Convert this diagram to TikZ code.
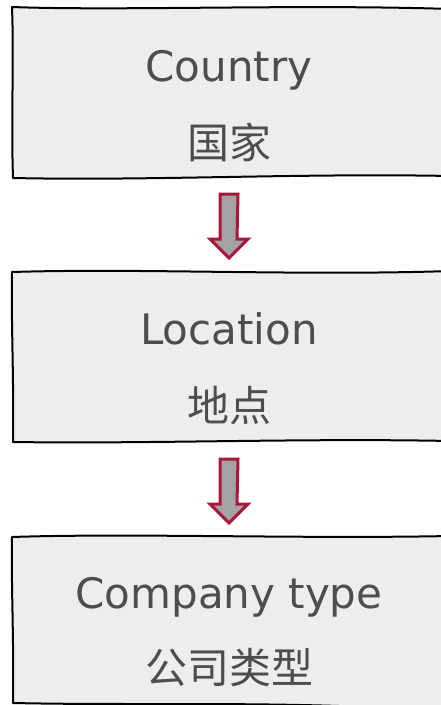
\documentclass[tikz,border=0pt]{standalone}
\usepackage{fontspec}
\setmainfont{DejaVu Sans}
\newfontfamily\cjk{Noto Sans CJK SC}
\usetikzlibrary{calc}
\definecolor{boxfill}{HTML}{EDEDED}
\definecolor{txtgray}{HTML}{4D4D4D}
\definecolor{arrred}{HTML}{A8173A}
\definecolor{arrfill}{HTML}{A3A3A3}
\tikzset{
  boxline/.style={draw=black, fill=boxfill, line width=2pt, line join=round},
  entxt/.style={text=txtgray, font=\fontsize{42}{50}\selectfont, anchor=base, inner sep=0pt},
  cntxt/.style={text=txtgray, font=\cjk\fontsize{42}{50}\selectfont, anchor=center, inner sep=0pt},
  fatarrow/.style={draw=arrred, fill=arrfill, line width=3pt, line join=miter}
}
\begin{document}
\begin{tikzpicture}[x=1pt,y=-1pt]
\useasboundingbox (0,0) rectangle (441,705);
\clip (0,0) rectangle (441,705);
% box 1
\draw[boxline] (12,7) .. controls (120,11) and (300,4) .. (450,9) -- (450,176)
  .. controls (300,173) and (150,181) .. (13,178) .. controls (11,120) and (14,60) .. cycle;
\node[entxt] (country) at (229,81) {Country};
\node[cntxt] (guojia) at (229,142) {国家};
% box 2
\draw[boxline] (12,272) .. controls (140,268) and (300,276) .. (450,271) -- (450,441)
  .. controls (300,438) and (150,444) .. (13,442) .. controls (14,380) and (11,320) .. cycle;
\node[entxt] (location) at (229,344) {Location};
\node[cntxt] (didian) at (229,406) {地点};
% box 3
\draw[boxline] (12,537) .. controls (130,533) and (300,539) .. (450,536) -- (450,712)
  .. controls (300,700) and (150,706) .. (13,703) .. controls (14,640) and (11,580) .. cycle;
\node[entxt] (ctype) at (229,608) {Company type};
\node[cntxt] (gongsi) at (229,668) {公司类型};
% arrows
\coordinate (a1) at (229,194);
\coordinate (a2) at (229,459);
\foreach \a in {a1,a2}{
  \draw[fatarrow] ($(\a)+(-9,0)$) -- ($(\a)+(9,0)$) -- ($(\a)+(8,45)$) -- ($(\a)+(19,45)$)
    -- ($(\a)+(0,64)$) -- ($(\a)+(-19,45)$) -- ($(\a)+(-9,45)$) -- cycle;
}
\end{tikzpicture}
\end{document}
